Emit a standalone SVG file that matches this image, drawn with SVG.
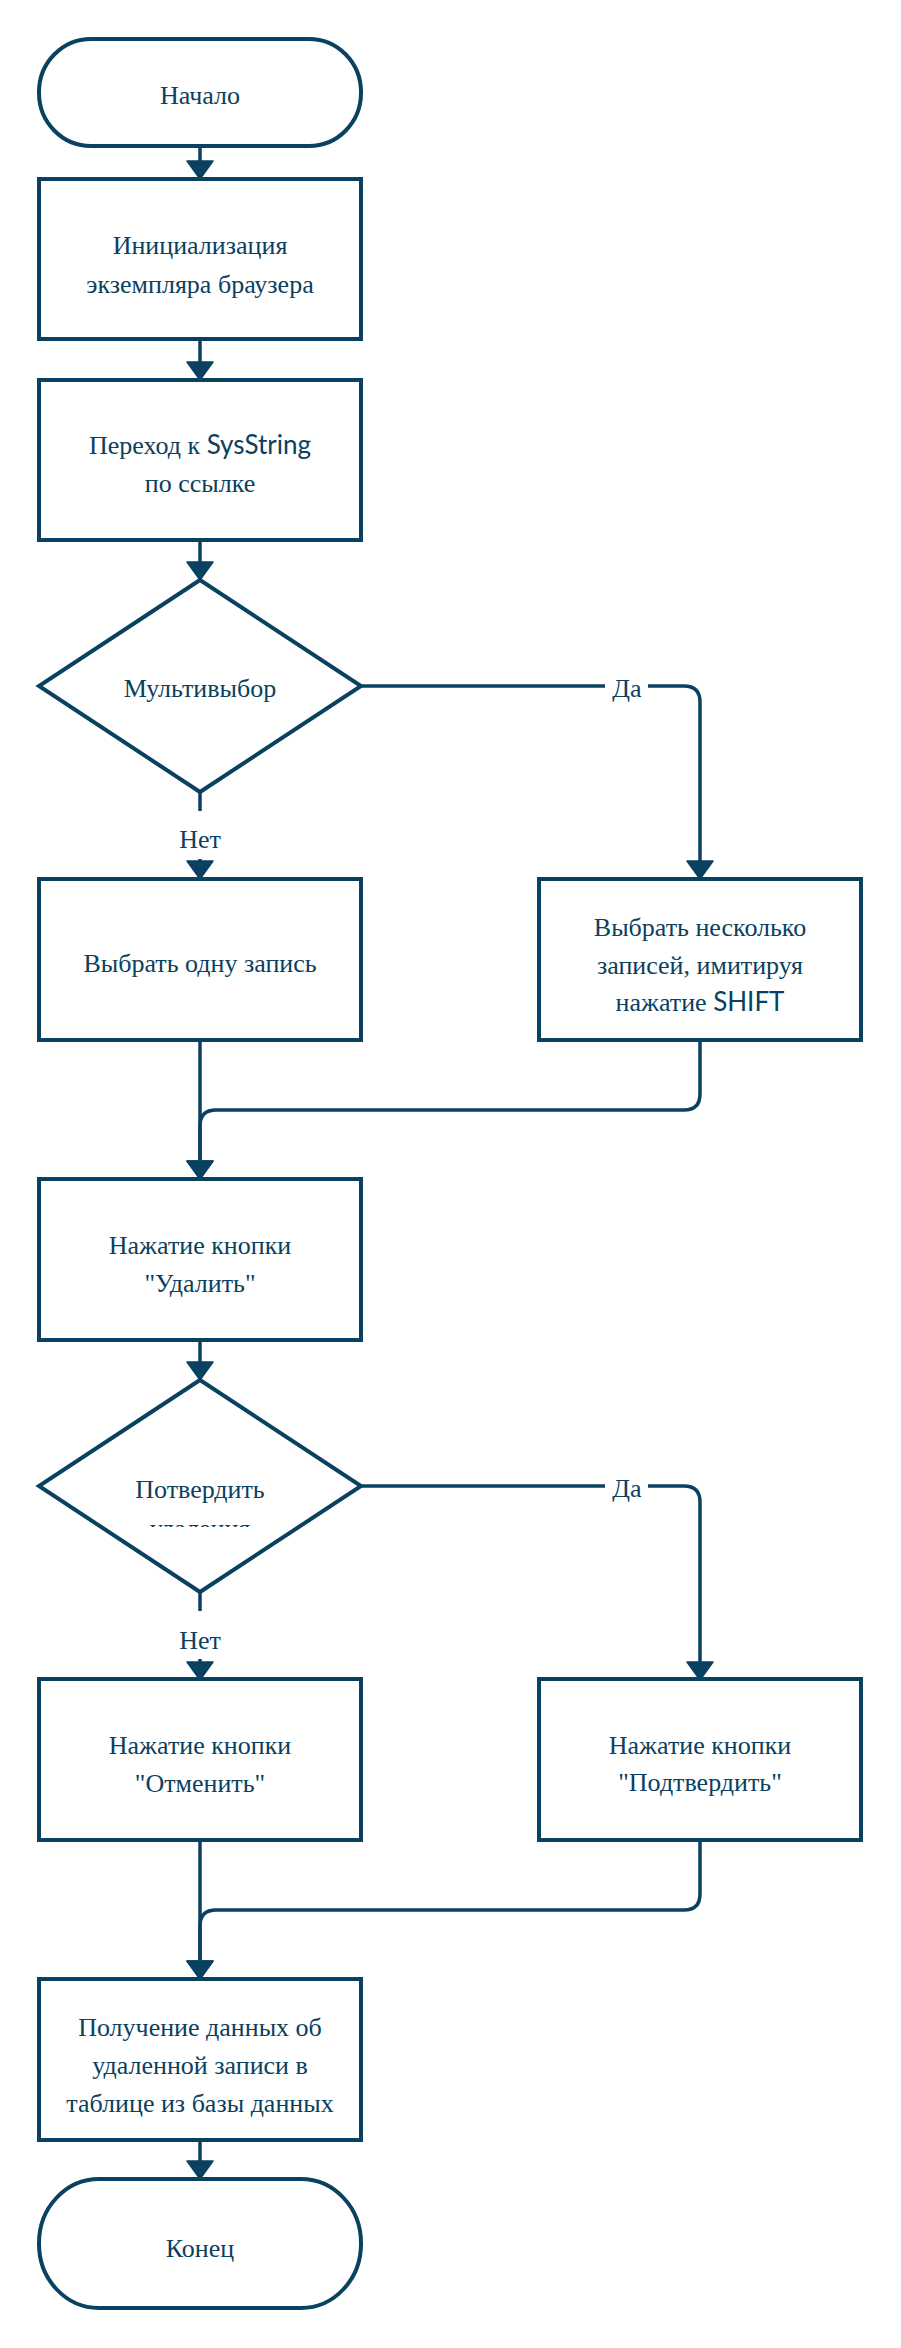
<svg xmlns="http://www.w3.org/2000/svg" width="901" height="2348" viewBox="0 0 901 2348">
<style>
.s{fill:#fff;stroke:#0a4060;stroke-width:4;stroke-linejoin:miter}
.c{fill:none;stroke:#0a4060;stroke-width:3.5}
.t{font-family:"Liberation Serif","Times New Roman",serif;font-size:26px;fill:#0a4060;text-anchor:middle}
.l{font-family:Lato,"Liberation Sans",sans-serif}
.bg{fill:#fff}
</style>
<defs>
<marker id="ah" markerUnits="userSpaceOnUse" markerWidth="22" markerHeight="30" refX="0" refY="13" orient="auto" overflow="visible">
<path d="M0,0 L18,13 L0,26 Z" fill="#0a4060" stroke="#0a4060" stroke-width="1.5" stroke-linejoin="round"/>
</marker>
<clipPath id="clipD2"><rect x="40" y="1440" width="320" height="87"/></clipPath>
</defs>
<rect width="901" height="2348" fill="#fff"/>
<g id="connectors">
<path class="c" d="M200,146 V161" marker-end="url(#ah)"/>
<path class="c" d="M200,339 V362" marker-end="url(#ah)"/>
<path class="c" d="M200,540 V562" marker-end="url(#ah)"/>
<path class="c" d="M361,686 H684 Q700,686 700,702 V861" marker-end="url(#ah)"/>
<rect class="bg" x="605" y="670" width="43" height="34"/>
<text class="t" x="627" y="697">Да</text>
<path class="c" d="M200,792 V861" marker-end="url(#ah)"/>
<rect class="bg" x="178" y="811" width="44" height="48"/>
<text class="t" x="200" y="848">Нет</text>
<path class="c" d="M200,1040 V1161" marker-end="url(#ah)"/>
<path class="c" d="M700,1040 V1094 Q700,1110 684,1110 H216 Q200,1110 200,1126 V1161" marker-end="url(#ah)"/>
<path class="c" d="M200,1340 V1362" marker-end="url(#ah)"/>
<path class="c" d="M361,1486 H684 Q700,1486 700,1502 V1662" marker-end="url(#ah)"/>
<rect class="bg" x="605" y="1470" width="43" height="34"/>
<text class="t" x="627" y="1497">Да</text>
<path class="c" d="M200,1592 V1662" marker-end="url(#ah)"/>
<rect class="bg" x="178" y="1611" width="44" height="48"/>
<text class="t" x="200" y="1649">Нет</text>
<path class="c" d="M200,1840 V1961" marker-end="url(#ah)"/>
<path class="c" d="M700,1840 V1894 Q700,1910 684,1910 H216 Q200,1910 200,1926 V1961" marker-end="url(#ah)"/>
<path class="c" d="M200,2140 V2161" marker-end="url(#ah)"/>
</g>
<g id="start">
<rect class="s" x="39" y="39" width="322" height="107" rx="52" ry="53"/>
<text class="t" x="200" y="104">Начало</text>
</g>
<g id="init">
<rect class="s" x="39" y="179" width="322" height="160"/>
<text class="t" x="200" y="254">Инициализация</text>
<text class="t" x="200" y="293">экземпляра браузера</text>
</g>
<g id="goto">
<rect class="s" x="39" y="380" width="322" height="160"/>
<text class="t" x="200" y="454">Переход к <tspan class="l">SysString</tspan></text>
<text class="t" x="200" y="492">по ссылке</text>
</g>
<g id="multi">
<polygon class="s" points="200,580 361,686 200,792 39,686"/>
<text class="t" x="200" y="697">Мультивыбор</text>
</g>
<g id="one">
<rect class="s" x="39" y="879" width="322" height="161"/>
<text class="t" x="200" y="972">Выбрать одну запись</text>
</g>
<g id="several">
<rect class="s" x="539" y="879" width="322" height="161"/>
<text class="t" x="700" y="936">Выбрать несколько</text>
<text class="t" x="700" y="974">записей, имитируя</text>
<text class="t" x="700" y="1011">нажатие <tspan class="l">SHIFT</tspan></text>
</g>
<g id="delete">
<rect class="s" x="39" y="1179" width="322" height="161"/>
<text class="t" x="200" y="1254">Нажатие кнопки</text>
<text class="t" x="200" y="1292">"Удалить"</text>
</g>
<g id="confirmq">
<polygon class="s" points="200,1380 361,1486 200,1592 39,1486"/>
<g clip-path="url(#clipD2)">
<text class="t" x="200" y="1498">Потвердить</text>
<text class="t" x="200" y="1537">удаления</text>
</g>
</g>
<g id="cancel">
<rect class="s" x="39" y="1679" width="322" height="161"/>
<text class="t" x="200" y="1754">Нажатие кнопки</text>
<text class="t" x="200" y="1792">"Отменить"</text>
</g>
<g id="confirm">
<rect class="s" x="539" y="1679" width="322" height="161"/>
<text class="t" x="700" y="1754">Нажатие кнопки</text>
<text class="t" x="700" y="1791">"Подтвердить"</text>
</g>
<g id="fetch">
<rect class="s" x="39" y="1979" width="322" height="161"/>
<text class="t" x="200" y="2036">Получение данных об</text>
<text class="t" x="200" y="2074">удаленной записи в</text>
<text class="t" x="200" y="2112">таблице из базы данных</text>
</g>
<g id="end">
<rect class="s" x="39" y="2179" width="322" height="129" rx="60" ry="64"/>
<text class="t" x="200" y="2257">Конец</text>
</g>
</svg>
